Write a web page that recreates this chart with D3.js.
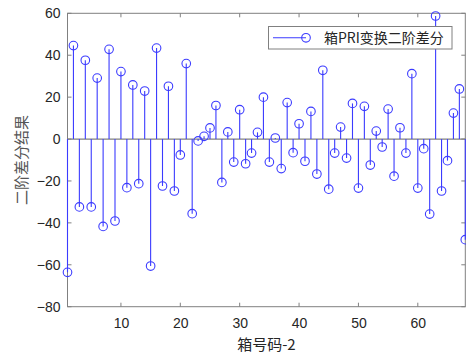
<!DOCTYPE html>
<html><head><meta charset="utf-8">
<script src="https://cdn.jsdelivr.net/npm/d3@7/dist/d3.min.js"></script>
<style>body{margin:0;background:#fff}svg{display:block}</style>
</head><body>
<svg id="c" width="466" height="355"></svg>
<script>
const values = [-63.6,44.6,-32.4,37.6,-32.4,29.1,-41.7,42.8,-39.1,32.2,
-23.2,25.8,-21.3,22.9,-60.6,43.4,-22.4,25.2,-24.8,-7.6,
36,-35.6,-0.9,1.3,5.3,16,-20.7,3.4,-11,14,
-11.8,-6.7,3.2,20,-11,0.5,-14.1,17.4,-6.5,7.3,
-10.6,13.2,-16.7,32.8,-23.9,-6.7,5.7,-9.1,17,-23.4,
15.6,-12.4,3.8,-3.8,14.3,-17.7,5.4,-6.7,31.2,-23.4,
-4.6,-35.8,58.7,-24.8,-10.3,12.4,23.9,-48];
const xTicks = [10,20,30,40,50,60];
const yTicks = [-80,-60,-40,-20,0,20,40,60];
const legendLabel = "箱PRI变换二阶差分";
const xLabel = "箱号码-2";
const yLabel = "二阶差分结果";

const svg = d3.select("#c");
const L=67.5, R=465.3, T=13.3, B=306.7;
const x = d3.scaleLinear().domain([1,68]).range([L,R]);
const y = d3.scaleLinear().domain([-80,60]).range([B,T]);
const axisCol="#808080", txtCol="#262626", blue="#3b3bff";
const font="'Liberation Sans', Arial, Helvetica, sans-serif";

// box
svg.append("rect").attr("x",L).attr("y",T).attr("width",R-L).attr("height",B-T)
  .attr("fill","none").attr("stroke",axisCol).attr("stroke-width",1);

// ticks
const tl=4;
xTicks.forEach(t=>{
  svg.append("line").attr("x1",x(t)).attr("x2",x(t)).attr("y1",B).attr("y2",B-tl).attr("stroke",axisCol);
  svg.append("line").attr("x1",x(t)).attr("x2",x(t)).attr("y1",T).attr("y2",T+tl).attr("stroke",axisCol);
});
yTicks.forEach(t=>{
  svg.append("line").attr("x1",L).attr("x2",L+tl).attr("y1",y(t)).attr("y2",y(t)).attr("stroke",axisCol);
  svg.append("line").attr("x1",R).attr("x2",R-tl).attr("y1",y(t)).attr("y2",y(t)).attr("stroke",axisCol);
});
const xa = d3.axisBottom(x).tickValues(xTicks).tickSize(0).tickPadding(11);
const ga = svg.append("g").attr("transform",`translate(0,${B})`).call(xa);
ga.select(".domain").remove();
ga.selectAll("text").attr("font-size",14).attr("font-family",font).attr("fill",txtCol);
const ya = d3.axisLeft(y).tickValues(yTicks).tickSize(0).tickPadding(7);
const gy = svg.append("g").attr("transform",`translate(${L},0)`).call(ya);
gy.select(".domain").remove();
gy.selectAll("text").attr("font-size",14).attr("font-family",font).attr("fill",txtCol);

// baseline
svg.append("line").attr("x1",L).attr("x2",R).attr("y1",y(0)).attr("y2",y(0)).attr("stroke",axisCol).attr("stroke-width",1.2);

// stems
const idx = values.map((v,i)=>({i:i+1,v}));
svg.append("g").selectAll("line").data(idx).join("line")
  .attr("x1",d=>x(d.i)).attr("x2",d=>x(d.i)).attr("y1",y(0)).attr("y2",d=>y(d.v))
  .attr("stroke",blue).attr("stroke-width",1.1);
svg.append("g").selectAll("circle").data(idx).join("circle")
  .attr("cx",d=>x(d.i)).attr("cy",d=>y(d.v)).attr("r",4.3)
  .attr("fill","none").attr("stroke",blue).attr("stroke-width",1.1);

// legend
const lg = svg.append("g");
lg.append("rect").attr("x",268.5).attr("y",26.5).attr("width",183.5).attr("height",22.5)
  .attr("fill","#fff").attr("stroke",axisCol).attr("stroke-width",1);
lg.append("line").attr("x1",273).attr("x2",306).attr("y1",37.8).attr("y2",37.8).attr("stroke",blue).attr("stroke-width",1.1);
lg.append("circle").attr("cx",306).attr("cy",37.8).attr("r",4.3).attr("fill","none").attr("stroke",blue).attr("stroke-width",1.1);
lg.append("text").attr("x",324).attr("y",43).attr("font-size",14)
  .attr("font-family","'Noto Sans CJK SC', sans-serif").attr("fill",txtCol).text(legendLabel);

// labels
svg.append("text").attr("x",(L+R)/2).attr("y",350).attr("text-anchor","middle")
  .attr("font-size",15).attr("font-family","'Noto Sans CJK SC', sans-serif").attr("fill",txtCol).text(xLabel);
svg.append("text").attr("transform",`translate(27,${(T+B)/2}) rotate(-90)`).attr("text-anchor","middle")
  .attr("font-size",15).attr("font-family","'Noto Sans CJK SC', sans-serif").attr("fill","#555").text(yLabel);
</script>
</body></html>
